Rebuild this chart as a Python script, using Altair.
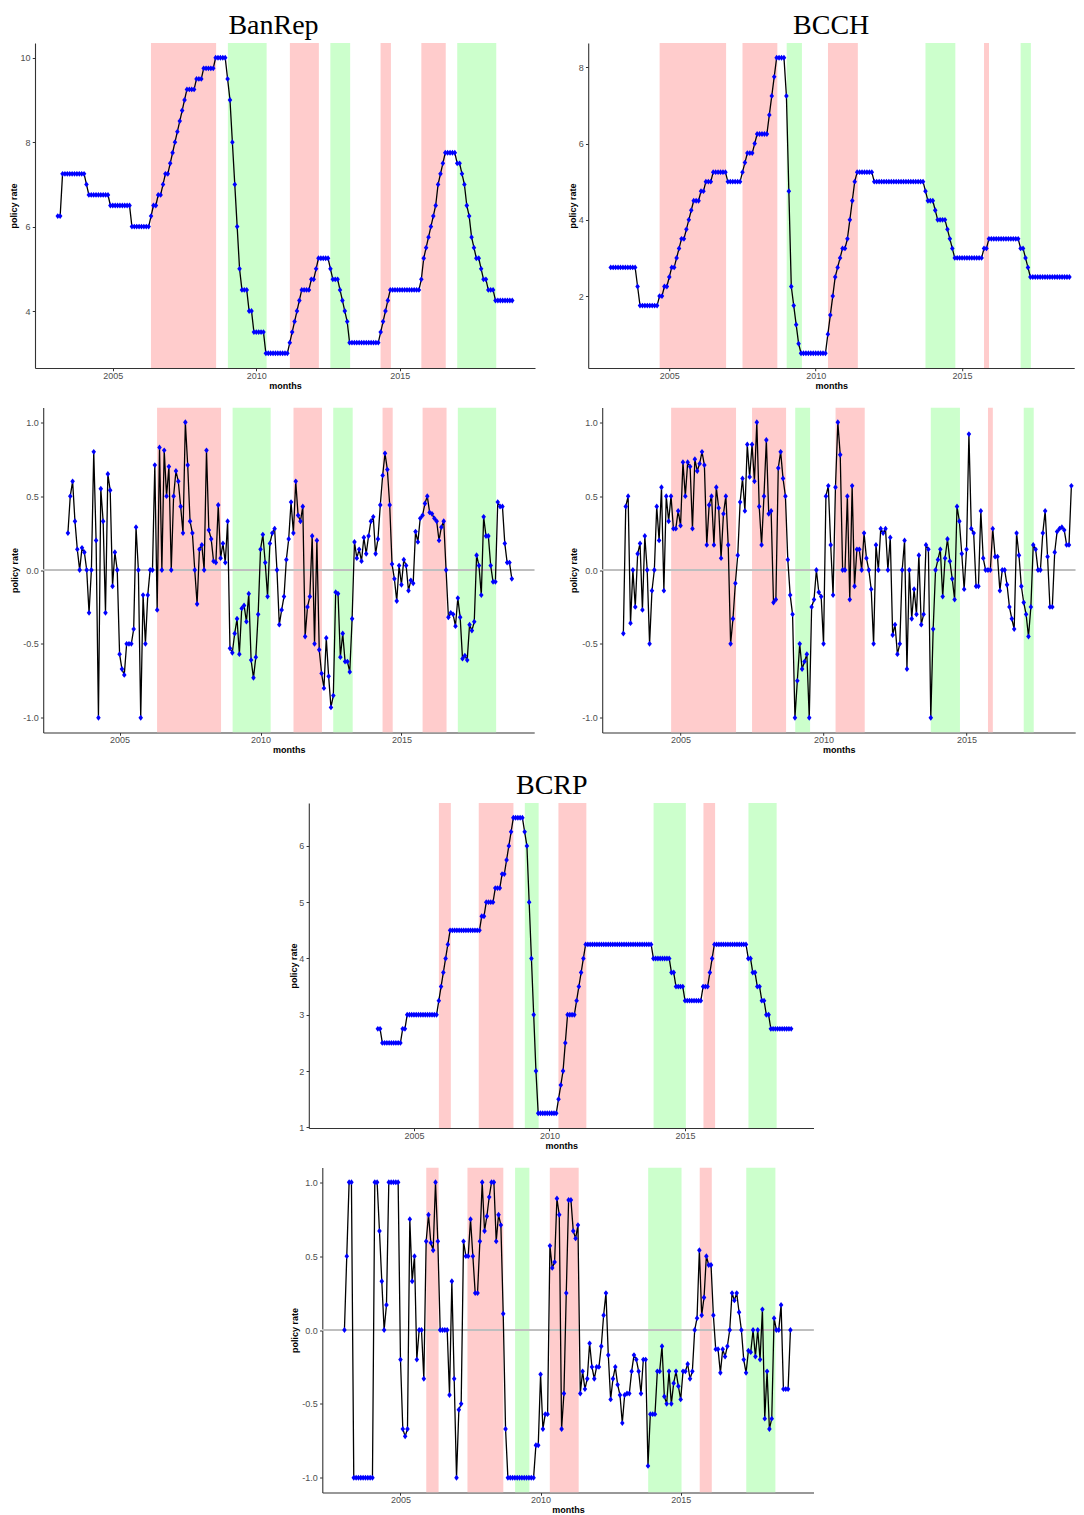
import altair as alt
import pandas as pd

# ------------------------------------------------------------------ data
# month index counted from Jan 2003 (0 = 2003-01)
banrep_rate_start = 1
banrep_rate = [
    6.25, 6.25,
    7.25, 7.25, 7.25, 7.25, 7.25, 7.25, 7.25, 7.25, 7.25, 7.25,
    7.0,
    6.75, 6.75, 6.75, 6.75, 6.75, 6.75, 6.75, 6.75, 6.75,
    6.5, 6.5, 6.5, 6.5, 6.5, 6.5, 6.5, 6.5, 6.5,
    6.0, 6.0, 6.0, 6.0, 6.0, 6.0, 6.0, 6.0,
    6.25, 6.5, 6.5, 6.75, 6.75, 7.0, 7.25, 7.25, 7.5, 7.75, 8.0, 8.25, 8.5, 8.75, 9.0,
    9.25, 9.25, 9.25, 9.25, 9.5, 9.5, 9.5,
    9.75, 9.75, 9.75, 9.75, 9.75,
    10.0, 10.0, 10.0, 10.0, 10.0,
    9.5, 9.0, 8.0, 7.0, 6.0, 5.0,
    4.5, 4.5, 4.5, 4.0, 4.0,
    3.5, 3.5, 3.5, 3.5, 3.5,
    3.0, 3.0, 3.0, 3.0, 3.0, 3.0, 3.0, 3.0, 3.0, 3.0,
    3.25, 3.5, 3.75, 4.0, 4.25,
    4.5, 4.5, 4.5, 4.5, 4.75, 4.75, 5.0,
    5.25, 5.25, 5.25, 5.25, 5.25,
    5.0, 4.75, 4.75, 4.75, 4.5, 4.25, 4.0, 3.75,
    3.25, 3.25, 3.25, 3.25, 3.25, 3.25, 3.25, 3.25, 3.25, 3.25, 3.25, 3.25, 3.25,
    3.5, 3.75, 4.0, 4.25,
    4.5, 4.5, 4.5, 4.5, 4.5, 4.5, 4.5, 4.5, 4.5, 4.5, 4.5, 4.5, 4.5,
    4.75, 5.25, 5.5, 5.75, 6.0, 6.25, 6.5, 7.0, 7.25, 7.5,
    7.75, 7.75, 7.75, 7.75, 7.75,
    7.5, 7.5, 7.25, 7.0, 6.5, 6.25, 5.75, 5.5, 5.25, 5.25, 5.0,
    4.75, 4.75, 4.5, 4.5, 4.5,
    4.25, 4.25, 4.25, 4.25, 4.25, 4.25, 4.25, 4.25,
]

bcch_rate_start = 0
bcch_rate = [
    2.75, 2.75, 2.75, 2.75, 2.75, 2.75, 2.75, 2.75, 2.75, 2.75, 2.75,
    2.25,
    1.75, 1.75, 1.75, 1.75, 1.75, 1.75, 1.75, 1.75,
    2.0, 2.0, 2.25, 2.25, 2.5, 2.75, 2.75, 3.0, 3.25, 3.5, 3.5, 3.75, 4.0, 4.25,
    4.5, 4.5, 4.5, 4.75, 4.75, 5.0, 5.0, 5.0,
    5.25, 5.25, 5.25, 5.25, 5.25, 5.25,
    5.0, 5.0, 5.0, 5.0, 5.0, 5.0,
    5.25, 5.5, 5.75, 5.75, 5.75, 6.0,
    6.25, 6.25, 6.25, 6.25, 6.25,
    6.75, 7.25, 7.75, 8.25, 8.25, 8.25, 8.25,
    7.25, 4.75, 2.25, 1.75, 1.25, 0.75,
    0.5, 0.5, 0.5, 0.5, 0.5, 0.5, 0.5, 0.5, 0.5, 0.5, 0.5,
    1.0, 1.5, 2.0, 2.5, 2.75, 3.0, 3.25, 3.25, 3.5, 4.0, 4.5, 5.0,
    5.25, 5.25, 5.25, 5.25, 5.25, 5.25, 5.25,
    5.0, 5.0, 5.0, 5.0, 5.0, 5.0, 5.0, 5.0, 5.0, 5.0, 5.0,
    5.0, 5.0, 5.0, 5.0, 5.0, 5.0, 5.0, 5.0, 5.0, 5.0,
    4.75, 4.5, 4.5, 4.5, 4.25, 4.0, 4.0, 4.0, 4.0, 3.75, 3.5, 3.25,
    3.0, 3.0, 3.0, 3.0, 3.0, 3.0, 3.0, 3.0, 3.0, 3.0, 3.0, 3.0,
    3.25, 3.25,
    3.5, 3.5, 3.5, 3.5, 3.5, 3.5, 3.5, 3.5, 3.5, 3.5, 3.5, 3.5, 3.5,
    3.25, 3.25, 3.0, 2.75,
    2.5, 2.5, 2.5, 2.5, 2.5, 2.5, 2.5, 2.5, 2.5, 2.5, 2.5, 2.5, 2.5, 2.5, 2.5, 2.5, 2.5,
]

bcrp_rate_start = 8
bcrp_rate = [
    2.75, 2.75,
    2.5, 2.5, 2.5, 2.5, 2.5, 2.5, 2.5, 2.5, 2.5,
    2.75, 2.75,
    3.0, 3.0, 3.0, 3.0, 3.0, 3.0, 3.0, 3.0, 3.0, 3.0, 3.0, 3.0, 3.0, 3.0,
    3.25, 3.5, 3.75, 4.0, 4.25,
    4.5, 4.5, 4.5, 4.5, 4.5, 4.5, 4.5, 4.5, 4.5, 4.5, 4.5, 4.5, 4.5, 4.5,
    4.75, 4.75, 5.0, 5.0, 5.0, 5.0, 5.25, 5.25, 5.25, 5.5, 5.5, 5.75, 6.0, 6.25,
    6.5, 6.5, 6.5, 6.5, 6.5,
    6.25, 6.0, 5.0, 4.0, 3.0, 2.0,
    1.25, 1.25, 1.25, 1.25, 1.25, 1.25, 1.25, 1.25, 1.25,
    1.5, 1.75, 2.0, 2.5, 3.0, 3.0, 3.0, 3.0, 3.25, 3.5, 3.75, 4.0,
    4.25, 4.25, 4.25, 4.25, 4.25, 4.25, 4.25, 4.25, 4.25, 4.25,
    4.25, 4.25, 4.25, 4.25, 4.25, 4.25, 4.25, 4.25, 4.25, 4.25,
    4.25, 4.25, 4.25, 4.25, 4.25, 4.25, 4.25, 4.25, 4.25, 4.25,
    4.0, 4.0, 4.0, 4.0, 4.0, 4.0, 4.0, 4.0,
    3.75, 3.75, 3.5, 3.5, 3.5, 3.5,
    3.25, 3.25, 3.25, 3.25, 3.25, 3.25, 3.25, 3.25,
    3.5, 3.5, 3.5, 3.75, 4.0,
    4.25, 4.25, 4.25, 4.25, 4.25, 4.25, 4.25, 4.25, 4.25, 4.25, 4.25, 4.25, 4.25, 4.25, 4.25,
    4.0, 4.0, 3.75, 3.75, 3.5, 3.5, 3.25, 3.25, 3.0, 3.0,
    2.75, 2.75, 2.75, 2.75, 2.75, 2.75, 2.75, 2.75, 2.75, 2.75,
]

banrep_idx_start = 2
banrep_idx = [
    0.25, 0.50, 0.60, 0.33, 0.14, 0.0, 0.15, 0.12, 0.0, -0.29,
    0.0, 0.80, 0.20, -1.0, 0.55, 0.33, -0.29, 0.65, 0.54, -0.11,
    0.12, 0.0, -0.57, -0.67, -0.71, -0.5, -0.5, -0.5, -0.40, 0.29,
    0.0, -1.0, -0.17, -0.5, -0.17, 0.0, 0.0, 0.71, -0.27, 0.83,
    0.0, 0.81, 0.5, 0.70, 0.0, 0.5, 0.67, 0.60, 0.43, 0.25,
    1.0, 0.71, 0.33, 0.25, 0.0, -0.23, 0.14, 0.17, 0.0, 0.81,
    0.27, 0.21, 0.06, 0.05, 0.44, 0.08, 0.18, 0.05, 0.33, -0.53,
    -0.56, -0.43, -0.33, -0.57, -0.26, -0.24, -0.35, -0.16, -0.61, -0.73,
    -0.59, -0.30, 0.14, 0.24, 0.05, -0.18, 0.18, 0.25, 0.28, 0.0,
    -0.37, -0.27, -0.18, 0.07, 0.21, 0.46, 0.25, 0.60, 0.37, 0.33,
    0.43, -0.45, -0.25, -0.18, 0.23, -0.5, 0.20, -0.54, -0.70, -0.80,
    -0.46, -0.72, -0.93, -0.85, -0.15, -0.16, -0.59, -0.43, -0.62, -0.62,
    -0.69, -0.33, 0.19, 0.08, 0.14, 0.06, 0.22, 0.11, 0.23, 0.33,
    0.36, 0.11, 0.21, 0.44, 0.64, 0.79, 0.68, 0.44, 0.04, -0.06,
    -0.21, 0.03, -0.10, 0.07, 0.03, -0.14, -0.07, -0.09, 0.26, 0.19,
    0.35, 0.37, 0.45, 0.50, 0.39, 0.38, 0.35, 0.33, 0.20, 0.29,
    0.33, 0.0, -0.32, -0.29, -0.30, -0.38, -0.19, -0.32, -0.60, -0.58,
    -0.61, -0.37, -0.41, -0.35, 0.10, 0.03, -0.17, 0.36, 0.23, 0.23,
    0.03, -0.08, -0.08, 0.46, 0.43, 0.43, 0.18, 0.05, 0.05, -0.06,
]

bcch_idx_start = 0
bcch_idx = [
    -0.43, 0.43, 0.50, -0.36, 0.0, -0.25, 0.11, 0.18, -0.27, 0.23,
    0.0, -0.5, -0.14, 0.0, 0.43, 0.20, 0.56, -0.14, 0.50, 0.33,
    0.50, 0.28, 0.28, 0.40, 0.30, 0.73, 0.50, 0.73, 0.70, 0.28,
    0.75, 0.67, 0.72, 0.80, 0.71, 0.17, 0.44, 0.50, 0.17, 0.56,
    0.42, 0.08, 0.38, 0.50, 0.17, -0.5, -0.33, -0.09, 0.10, 0.46,
    0.62, 0.40, 0.85, 0.63, 0.85, 0.60, 1.0, 0.43, 0.17, 0.50,
    0.88, 0.38, 0.40, -0.22, -0.20, 0.69, 0.80, 0.62, 0.50, 0.07,
    -0.17, -0.30, -1.0, -0.75, -0.5, -0.67, -0.62, -0.57, -1.0, -0.25,
    -0.20, 0.0, -0.15, -0.18, -0.5, 0.50, 0.57, 0.17, -0.17, 0.56,
    1.0, 0.78, 0.0, 0.0, 0.50, -0.20, 0.57, -0.11, 0.14, 0.14,
    0.0, 0.25, 0.08, 0.0, -0.13, -0.5, 0.17, 0.0, 0.28, 0.25,
    0.28, 0.0, 0.22, -0.44, -0.37, -0.57, -0.5, 0.0, 0.20, -0.67,
    0.0, -0.33, -0.13, -0.30, 0.10, -0.37, -0.30, 0.17, 0.14, -1.0,
    -0.40, 0.0, 0.07, 0.14, -0.18, 0.08, 0.21, 0.06, -0.06, -0.20,
    0.43, 0.33, 0.11, -0.13, 0.14, 0.92, 0.28, 0.25, -0.11, -0.11,
    0.40, 0.08, 0.0, 0.0, 0.0, 0.28, 0.09, 0.09, -0.14, 0.0,
    0.0, -0.10, -0.25, -0.33, -0.40, 0.25, 0.10, -0.11, -0.22, -0.30,
    -0.45, -0.25, 0.17, 0.14, 0.0, 0.0, 0.25, 0.40, 0.09, -0.25,
    -0.25, 0.12, 0.26, 0.28, 0.29, 0.27, 0.17, 0.17, 0.57,
]

bcrp_idx_start = 0
bcrp_idx = [
    0.0, 0.50, 1.0, 1.0, -1.0, -1.0, -1.0, -1.0, -1.0, -1.0,
    -1.0, -1.0, -1.0, 1.0, 1.0, 0.67, 0.33, 0.0, 0.17, 1.0,
    1.0, 1.0, 1.0, 1.0, -0.20, -0.67, -0.72, -0.67, 0.75, 0.33,
    0.50, -0.20, 0.0, 0.0, -0.33, 0.60, 0.78, 0.59, 0.54, 1.0,
    0.60, 0.0, 0.0, 0.0, 0.0, -0.44, 0.33, -0.33, -1.0, -0.54,
    -0.50, 0.60, 0.50, 0.50, 0.75, 0.50, 0.25, 0.25, 0.60, 1.0,
    0.67, 0.77, 0.90, 1.0, 1.0, 0.60, 0.78, 0.71, 0.11, -0.67,
    -1.0, -1.0, -1.0, -1.0, -1.0, -1.0, -1.0, -1.0, -1.0, -1.0,
    -1.0, -1.0, -0.78, -0.78, -0.30, -0.67, -0.57, -0.57, 0.57, 0.42,
    0.46, 0.89, 0.78, -0.67, -0.43, 0.25, 0.88, 0.88, 0.67, 0.62,
    0.71, -0.43, -0.28, -0.40, -0.33, -0.09, -0.25, -0.33, -0.25, -0.25,
    -0.11, 0.10, 0.25, -0.17, -0.47, -0.33, -0.25, -0.37, -0.44, -0.63,
    -0.44, -0.43, -0.43, -0.28, -0.17, -0.20, -0.28, -0.43, -0.20, -0.20,
    -0.92, -0.57, -0.57, -0.57, -0.28, -0.28, -0.11, -0.45, -0.50, -0.28,
    -0.50, -0.36, -0.28, -0.38, -0.47, -0.28, -0.28, -0.23, -0.33, -0.28,
    0.0, 0.08, 0.54, 0.10, 0.22, 0.50, 0.44, 0.44, 0.10, -0.13,
    -0.13, -0.29, -0.13, -0.18, -0.11, 0.0, 0.25, 0.20, 0.25, 0.12,
    0.0, -0.20, -0.29, -0.14, -0.15, 0.0, -0.18, 0.0, -0.20, 0.14,
    -0.60, -0.28, -0.67, -0.60, 0.08, 0.0, 0.0, 0.17, -0.40, -0.40,
    -0.40, 0.0,
]

# shaded episodes (decimal years)
banrep_shade_start = [2006.33, 2009.01, 2011.17, 2012.58, 2014.33, 2015.75, 2017.00]
banrep_shade_end = [2008.60, 2010.36, 2012.18, 2013.27, 2014.69, 2016.60, 2018.36]
banrep_shade_kind = ["up", "down", "up", "down", "up", "up", "down"]

bcch_shade_start = [2004.67, 2007.50, 2009.01, 2010.42, 2013.75, 2015.75, 2017.00]
bcch_shade_end = [2006.94, 2008.69, 2009.53, 2011.44, 2014.77, 2015.92, 2017.35]
bcch_shade_kind = ["up", "up", "down", "up", "down", "up", "down"]

bcrp_shade_start = [2005.92, 2007.39, 2009.09, 2010.33, 2013.84, 2015.68, 2017.34]
bcrp_shade_end = [2006.36, 2008.67, 2009.60, 2011.36, 2015.03, 2016.11, 2018.38]
bcrp_shade_kind = ["up", "up", "down", "up", "down", "up", "down"]

year_ticks = [2005, 2010, 2015]
index_ticks = [-1.0, -0.5, 0.0, 0.5, 1.0]

# ------------------------------------------------------------------ helpers
PANEL_H = 325
DIAMOND = "M0,-1L0.78,0L0,1L-0.78,0Z"   # slightly tall filled diamond


def panel(vals, m0, s_start, s_end, s_kind, xdom, ydom, yticks, ylab,
          plot_w, yext, lead=0.0, title=None, title_dx=0.0, zero=False):
    """lead = empty pixels inside the view before the plotting area starts."""
    df = pd.DataFrame({"t": [2003 + (m0 + i) / 12 for i in range(len(vals))],
                       "v": vals})
    sh = pd.DataFrame({"s": s_start, "e": s_end, "k": s_kind})
    xscale = alt.Scale(domain=xdom, nice=False, zero=False,
                       range=[lead, lead + plot_w])
    xaxis = alt.Axis(values=year_ticks, format="d", title="months")
    yscale = alt.Scale(domain=ydom, nice=False, zero=False)
    yaxis = alt.Axis(values=yticks, labelExpr=ylab, title="policy rate",
                     minExtent=yext, maxExtent=yext, offset=-lead)

    rect = alt.Chart(sh).mark_rect(clip=True).encode(
        x=alt.X("s:Q", scale=xscale, axis=xaxis),
        x2="e:Q",
        color=alt.Color("k:N", legend=None,
                        scale=alt.Scale(domain=["up", "down"],
                                        range=["#FFCCCC", "#CCFFCC"])),
    )
    layers = [rect]
    if zero:
        layers.append(
            alt.Chart(sh).mark_rule(color="#BEBEBE", strokeWidth=1).encode(
                x=alt.datum(xdom[0]), x2=alt.datum(xdom[1]), y=alt.datum(0.0)
            )
        )
    line = alt.Chart(df).mark_line(color="black", strokeWidth=1.3, clip=True).encode(
        x=alt.X("t:Q", scale=xscale, axis=xaxis),
        y=alt.Y("v:Q", scale=yscale, axis=yaxis),
    )
    pts = alt.Chart(df).mark_point(shape=DIAMOND, filled=True, color="#0000FF",
                                   size=34, opacity=1, clip=True).encode(
        x=alt.X("t:Q", scale=xscale, axis=xaxis),
        y=alt.Y("v:Q", scale=yscale, axis=yaxis),
    )
    layers += [line, pts]
    ch = alt.layer(*layers).properties(width=lead + plot_w, height=PANEL_H)
    if title:
        ch = ch.properties(title=alt.TitleParams(
            text=title, font="Liberation Serif", fontSize=28, fontWeight="normal",
            color="black", anchor="middle", frame="group", offset=3, dx=title_dx))
    return ch


int_lab = "format(datum.value, 'd')"
dec_lab = "replace(format(datum.value, '.1f'), '\u2212', '-')"

A = panel(banrep_rate, banrep_rate_start, banrep_shade_start, banrep_shade_end,
          banrep_shade_kind, [2002.29, 2019.71], [2.65, 10.35], [4, 6, 8, 10],
          int_lab, 500, 16.5, title="BanRep", title_dx=-11.5)
B = panel(bcch_rate, bcch_rate_start, bcch_shade_start, bcch_shade_end,
          bcch_shade_kind, [2002.23, 2018.83], [0.1125, 8.6375], [2, 4, 6, 8],
          int_lab, 486, 11, title="BCCH", title_dx=0)
C = panel(banrep_idx, banrep_idx_start, banrep_shade_start, banrep_shade_end,
          banrep_shade_kind, [2002.29, 2019.71], [-1.1, 1.1], index_ticks,
          dec_lab, 491, 24.2, lead=8.2, zero=True)
D = panel(bcch_idx, bcch_idx_start, bcch_shade_start, bcch_shade_end,
          bcch_shade_kind, [2002.26, 2018.80], [-1.1, 1.1], index_ticks,
          dec_lab, 473, 23.7, zero=True)
E = panel(bcrp_rate, bcrp_rate_start, bcrp_shade_start, bcrp_shade_end,
          bcrp_shade_kind, [2001.12, 2019.74], [0.9875, 6.7625], [1, 2, 3, 4, 5, 6],
          int_lab, 504.7, 10, lead=273.8, title="BCRP", title_dx=127.5)
F = panel(bcrp_idx, bcrp_idx_start, bcrp_shade_start, bcrp_shade_end,
          bcrp_shade_kind, [2002.21, 2019.74], [-1.1, 1.1], index_ticks,
          dec_lab, 491.2, 23.3, lead=287.3, zero=True)

row1 = alt.hconcat(A, B, spacing=33.2)
row2 = alt.hconcat(C, D, spacing=34.2)

chart = alt.vconcat(row1, row2, E, F, spacing=17.5).properties(
    padding={"left": 1, "top": 4, "right": 0, "bottom": 0}
).configure_view(stroke=None).configure_axis(
    grid=False,
    labelFont="Liberation Sans", labelFontSize=9, labelColor="#4D4D4D",
    titleFont="Liberation Sans", titleFontSize=9, titleFontWeight="bold",
    titleColor="black",
    domainColor="#333333", domainWidth=1.1,
    tickColor="#333333", tickSize=2.75, tickWidth=1,
).configure_axisX(
    labelPadding=0.5, titlePadding=0.75,
).configure_axisY(
    labelPadding=2.2, titlePadding=0,
)

chart.save("out.html", embed_options={"renderer": "svg", "actions": False})
